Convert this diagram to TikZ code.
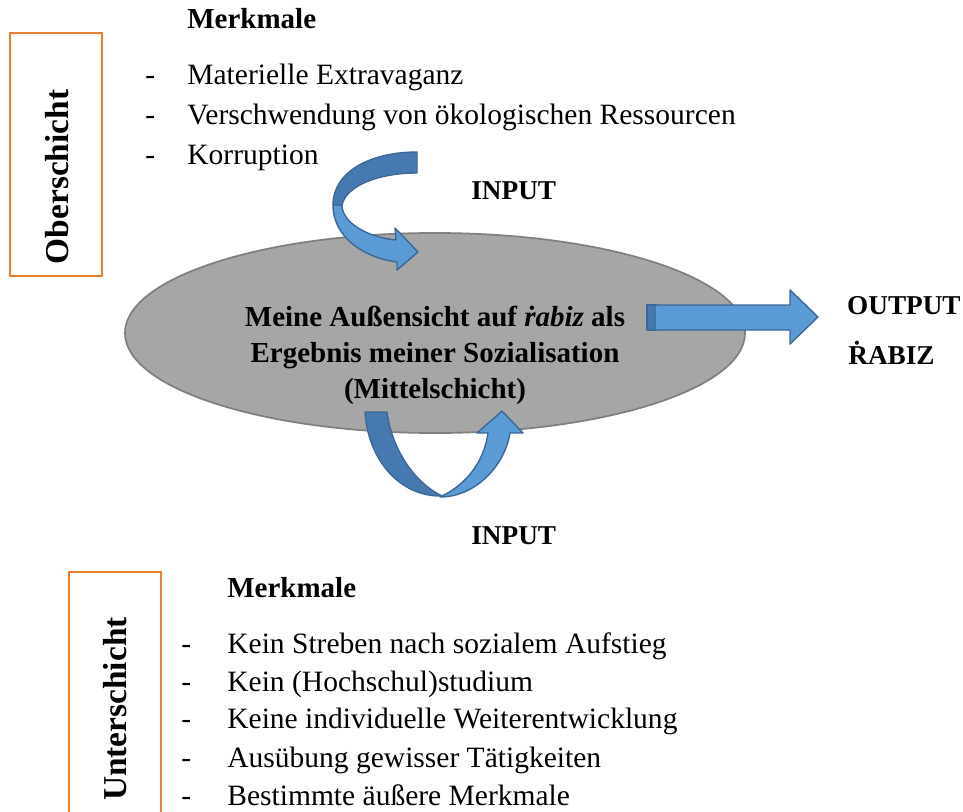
\documentclass[tikz,border=0pt]{standalone}
\usepackage{fontspec}
\setmainfont{Liberation Serif}
\usepackage{tikz}

\definecolor{boxorange}{RGB}{237,125,49}
\definecolor{arrowdark}{RGB}{71,121,177}
\definecolor{arrowlight}{RGB}{91,155,213}
\definecolor{arrowline}{RGB}{60,104,150}
\definecolor{ovalgray}{RGB}{166,166,166}

\tikzset{
    txt/.style={anchor=base west,inner sep=0pt,font=\fontsize{16.8}{20}\selectfont},
    bold/.style={txt,font=\fontsize{16.5}{20}\selectfont\bfseries},
    caps/.style={txt,font=\fontsize{15.5}{20}\selectfont\bfseries},
    layer/.style={draw=boxorange,line width=1.2pt},
    layerlabel/.style={rotate=90,font=\fontsize{19}{22}\selectfont\bfseries},
    arrowpart/.style={draw=arrowline,line width=0.8pt,line join=round}
}

\begin{document}
\begin{tikzpicture}[x=0.02cm,y=-0.02cm]
    \useasboundingbox (0,0) rectangle (963,811);

    % Oberschicht
    \draw [layer] (10,33) rectangle (102,276);
    \node [layerlabel] (ober) at (57,177) {Oberschicht};

    \node [bold] (merkmaloben) at (187,29) {Merkmale};
    \node [txt] (dasha) at (145,85) {-};
    \node [txt] (itema) at (187,85) {Materielle Extravaganz};
    \node [txt] (dashb) at (145,125) {-};
    \node [txt] (itemb) at (187,125) {Verschwendung von ökologischen Ressourcen};
    \node [txt] (dashc) at (145,164) {-};
    \node [txt] (itemc) at (187,164) {Korruption};

    % Mittelschicht
    \draw [fill=ovalgray,draw=gray,line width=1pt] (435,333) ellipse [x radius=310, y radius=100];
    \node [align=center,font=\fontsize{16.5}{20.5}\selectfont\bfseries] (mitte) at (435,355)
        {Meine Außensicht auf \textit{ṙabiz} als\\Ergebnis meiner Sozialisation\\(Mittelschicht)};

    % input von oben
    \draw [arrowpart,fill=arrowdark] (417,152) .. controls (370,152) and (333,172) .. (333,205)
        -- (342,205) .. controls (346,186) and (378,173) .. (417,173) -- cycle;
    \draw [arrowpart,fill=arrowlight] (333,205) .. controls (333,238) and (365,258) .. (397,262)
        -- (397,270) -- (418,252) -- (395,228) -- (396,240)
        .. controls (366,237) and (342,222) .. (342,205) -- cycle;
    \node [caps] (inputoben) at (471,199) {INPUT};

    % input von unten
    \draw [arrowpart,fill=arrowdark] (365,412) -- (387,412)
        .. controls (392,450) and (415,483) .. (442,496)
        .. controls (400,497) and (368,460) .. (365,412) -- cycle;
    \draw [arrowpart,fill=arrowlight] (440,497) .. controls (476,497) and (505,465) .. (510,433)
        -- (523,433) -- (502,411) -- (477,433) -- (488,433)
        .. controls (484,462) and (466,485) .. (440,497) -- cycle;
    \node [caps] (inputunten) at (471,544) {INPUT};

    % output
    \draw [arrowpart,fill=arrowdark] (647,305) rectangle (657,330);
    \draw [arrowpart,fill=arrowlight] (655,305) -- (790,305) -- (790,290) -- (818,317)
        -- (790,344) -- (790,330) -- (655,330) -- cycle;
    \node [caps,anchor=base east] (output) at (961,314) {OUTPUT};
    \node [caps] (rabiz) at (848,364) {ṘABIZ};

    % Unterschicht
    \draw [layer] (69,820) -- (69,572) -- (161,572) -- (161,820);
    \node [layerlabel] (unter) at (115,709) {Unterschicht};

    \node [bold] (merkmalunten) at (227,597) {Merkmale};
    \node [txt] (dashd) at (181,653) {-};
    \node [txt] (itemd) at (227,653) {Kein Streben nach sozialem Aufstieg};
    \node [txt] (dashe) at (181,691) {-};
    \node [txt] (iteme) at (227,691) {Kein (Hochschul)studium};
    \node [txt] (dashf) at (181,728) {-};
    \node [txt] (itemf) at (227,728) {Keine individuelle Weiterentwicklung};
    \node [txt] (dashg) at (181,767) {-};
    \node [txt] (itemg) at (227,767) {Ausübung gewisser Tätigkeiten};
    \node [txt] (dashh) at (181,805) {-};
    \node [txt] (itemh) at (227,805) {Bestimmte äußere Merkmale};
\end{tikzpicture}
\end{document}
